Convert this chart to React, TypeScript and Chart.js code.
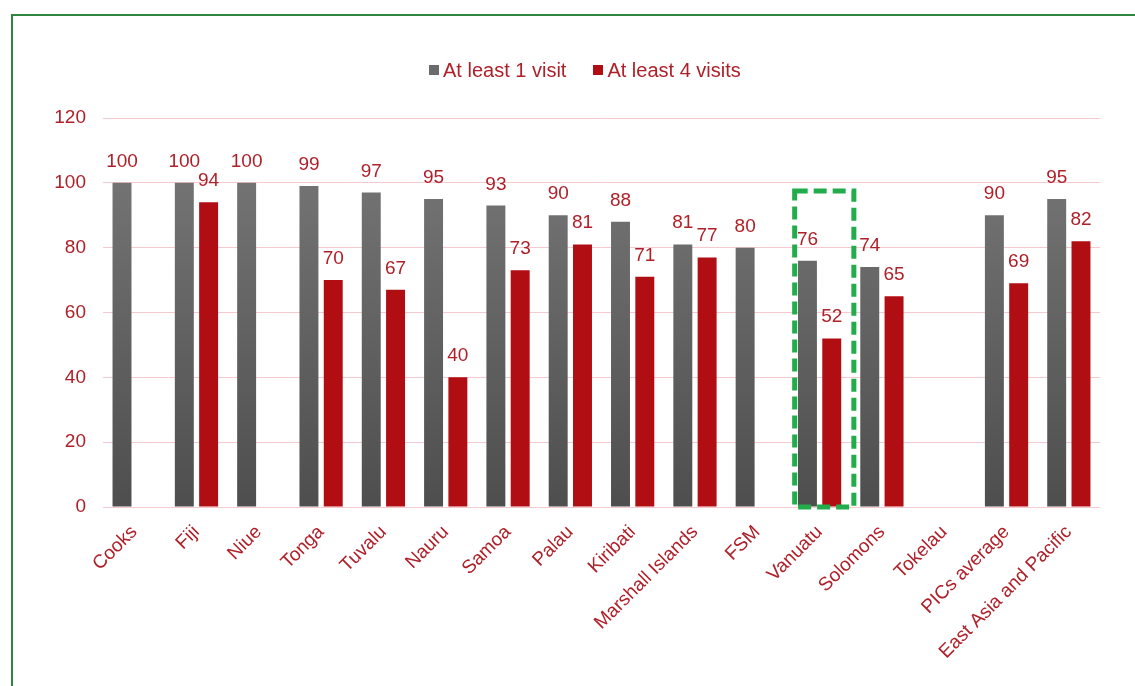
import React, { useEffect, useRef } from 'react';
import { Chart, registerables } from 'chart.js';

Chart.register(...registerables);

const CATEGORIES = [
  'Cooks', 'Fiji', 'Niue', 'Tonga', 'Tuvalu', 'Nauru', 'Samoa', 'Palau', 'Kiribati',
  'Marshall Islands', 'FSM', 'Vanuatu', 'Solomons', 'Tokelau', 'PICs average', 'East Asia and Pacific',
];
const AT_LEAST_1: (number | null)[] = [100, 100, 100, 99, 97, 95, 93, 90, 88, 81, 80, 76, 74, null, 90, 95];
const AT_LEAST_4: (number | null)[] = [null, 94, null, 70, 67, 40, 73, 81, 71, 77, null, 52, 65, null, 69, 82];
const SERIES_NAMES = ['At least 1 visit', 'At least 4 visits'];
const Y_MIN = 0;
const Y_MAX = 120;
const Y_STEP = 20;
const HIGHLIGHT = 'Vanuatu';
const HIGHLIGHT_TOP = 97.5;

const FONT = "'Liberation Sans', Arial, Helvetica, sans-serif";
const TEXT_RED = '#AF2029';
const BAR_RED = '#B10E14';
const GRAY_LEGEND = '#6B6B6B';
const GRID_PINK = '#F4CACE';
const BORDER_GREEN = '#2E8540';
const DASH_GREEN = '#22AC4C';

const valueLabels = {
  id: 'valueLabels',
  afterDatasetsDraw(chart: any) {
    const ctx = chart.ctx;
    ctx.save();
    ctx.font = `19px ${FONT}`;
    ctx.fillStyle = TEXT_RED;
    ctx.textAlign = 'center';
    ctx.textBaseline = 'alphabetic';
    chart.data.datasets.forEach((ds: any, di: number) => {
      const meta = chart.getDatasetMeta(di);
      meta.data.forEach((el: any, i: number) => {
        const v = ds.data[i];
        if (v == null) return;
        ctx.fillText(String(v), el.x, el.y - 16);
      });
    });
    ctx.restore();
  },
};

const highlightBox = {
  id: 'highlightBox',
  afterDatasetsDraw(chart: any) {
    const xs = chart.scales.x;
    const ys = chart.scales.y;
    const idx = CATEGORIES.indexOf(HIGHLIGHT);
    if (idx < 0) return;
    const cw = xs.width / CATEGORIES.length;
    const cx = xs.getPixelForValue(idx);
    const left = cx - 0.4 * cw;
    const right = cx + 0.55 * cw;
    const top = ys.getPixelForValue(HIGHLIGHT_TOP);
    const bottom = ys.getPixelForValue(0);
    const ctx = chart.ctx;
    ctx.save();
    ctx.strokeStyle = DASH_GREEN;
    ctx.lineWidth = 5;
    ctx.setLineDash([13, 6]);
    ctx.strokeRect(left, top, right - left, bottom - top);
    ctx.restore();
  },
};

export default function App() {
  const ref = useRef<HTMLCanvasElement>(null);

  useEffect(() => {
    const canvas = ref.current;
    if (!canvas) return;
    const chart = new Chart(canvas, {
      type: 'bar',
      data: {
        labels: CATEGORIES,
        datasets: [
          {
            label: SERIES_NAMES[0],
            data: AT_LEAST_1,
            backgroundColor: (c: any) => {
              const area = c.chart.chartArea;
              if (!area) return GRAY_LEGEND;
              const g = c.chart.ctx.createLinearGradient(0, area.top, 0, area.bottom);
              g.addColorStop(0, '#7A7A7A');
              g.addColorStop(1, '#4E4E4E');
              return g;
            },
            categoryPercentage: 0.78,
            barPercentage: 0.78,
          },
          {
            label: SERIES_NAMES[1],
            data: AT_LEAST_4,
            backgroundColor: BAR_RED,
            categoryPercentage: 0.78,
            barPercentage: 0.78,
          },
        ],
      },
      options: {
        responsive: false,
        animation: false,
        devicePixelRatio: 1,
        layout: { padding: { left: 0, right: 35, top: 118, bottom: 0 } },
        plugins: {
          legend: { display: false },
          tooltip: { enabled: false },
          title: { display: false },
        },
        scales: {
          x: {
            grid: { display: false },
            border: { display: false },
            ticks: {
              autoSkip: false,
              maxRotation: 45,
              minRotation: 45,
              color: TEXT_RED,
              font: { size: 19, family: FONT },
              padding: 6,
            },
            afterFit: (scale: any) => {
              scale.height = 179;
            },
          },
          y: {
            min: Y_MIN,
            max: Y_MAX,
            grid: { color: GRID_PINK, drawTicks: false, lineWidth: 1 },
            border: { display: false },
            ticks: {
              stepSize: Y_STEP,
              color: TEXT_RED,
              font: { size: 19, family: FONT },
              padding: 17,
            },
            afterFit: (scale: any) => {
              scale.width = 103;
            },
          },
        },
      },
      plugins: [valueLabels, highlightBox],
    } as any);
    return () => chart.destroy();
  }, []);

  const legendText: React.CSSProperties = {
    fontFamily: FONT,
    fontSize: 20,
    color: TEXT_RED,
    lineHeight: '24px',
    whiteSpace: 'nowrap',
  };

  return (
    <div
      style={{
        position: 'fixed',
        left: 0,
        top: 0,
        width: 1135,
        height: 686,
        overflow: 'hidden',
        background: '#fff',
      }}
    >
      <div
        style={{
          position: 'absolute',
          left: 11,
          top: 14,
          width: 1300,
          height: 900,
          borderTop: `2px solid ${BORDER_GREEN}`,
          borderLeft: `2px solid ${BORDER_GREEN}`,
        }}
      />
      <canvas
        ref={ref}
        width={1135}
        height={686}
        style={{ position: 'absolute', left: 0, top: 0, width: 1135, height: 686 }}
      />
      <div
        style={{
          position: 'absolute',
          left: 429,
          top: 58,
          height: 24,
          display: 'flex',
          alignItems: 'center',
        }}
      >
        <span style={{ width: 10, height: 10, background: GRAY_LEGEND, marginRight: 4, display: 'inline-block' }} />
        <span style={legendText}>{SERIES_NAMES[0]}</span>
        <span
          style={{ width: 10, height: 10, background: BAR_RED, marginLeft: 27, marginRight: 4, display: 'inline-block' }}
        />
        <span style={legendText}>{SERIES_NAMES[1]}</span>
      </div>
    </div>
  );
}
